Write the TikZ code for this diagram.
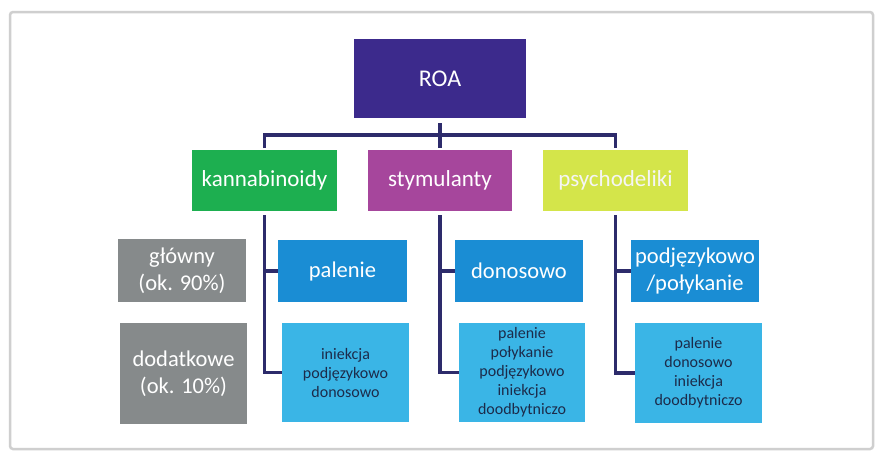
\documentclass[tikz,border=0pt]{standalone}
\usepackage{fontspec}
\setmainfont{Carlito}
\definecolor{roac}{HTML}{3C2A8C}
\definecolor{kannc}{HTML}{1DAF50}
\definecolor{stymc}{HTML}{A6469C}
\definecolor{psyc}{HTML}{D4E54A}
\definecolor{lvlthree}{HTML}{1A8DD4}
\definecolor{lvlfour}{HTML}{3AB5E6}
\definecolor{grayc}{HTML}{868A8B}
\definecolor{linec}{HTML}{2D2B6B}
\definecolor{darktext}{HTML}{1C2B4A}
\definecolor{framec}{HTML}{CFCFCF}
\begin{document}
\begin{tikzpicture}[x=1pt,y=-1pt,
  box/.style={inner sep=0pt, outer sep=0pt, align=center},
  conn/.style={draw=linec, line width=3.5pt},
  bigtxt/.style={font=\fontsize{22.5}{26.5}\selectfont},
  smalltxt/.style={font=\fontsize{16}{19}\selectfont, text=darktext}]
\useasboundingbox (0,0) rectangle (883,459);
\fill[white] (0,0) rectangle (883,459);
\draw[framec, line width=2.5pt, rounded corners=3pt] (10,12) rectangle (873,449);

\node[box, fill=roac, text=white, minimum width=172pt, minimum height=79pt, font=\fontsize{24}{28}\selectfont] (roa) at (440,78.5) {ROA};

\node[box, fill=kannc, text=white, minimum width=145pt, minimum height=61pt, font=\fontsize{23}{27}\selectfont] (kann) at (264.5,180.5) {kannabinoidy};
\node[box, fill=stymc, text=white, minimum width=144pt, minimum height=61pt, font=\fontsize{23}{27}\selectfont] (stym) at (440,180.5) {stymulanty};
\node[box, fill=psyc, text=white!92!gray, minimum width=145pt, minimum height=61pt, font=\fontsize{23}{27}\selectfont] (psych) at (615.5,180.5) {psychodeliki};

\node[box, bigtxt, fill=lvlthree, text=white, minimum width=129pt, minimum height=62pt] (pal) at (342.5,271) {palenie};
\node[box, bigtxt, fill=lvlthree, text=white, minimum width=128pt, minimum height=62pt] (don) at (519,271) {donosowo};
\node[box, bigtxt, fill=lvlthree, text=white, minimum width=128pt, minimum height=62pt] (podj) at (695,271) {podjęzykowo\\/połykanie};

\node[box, smalltxt, fill=lvlfour, minimum width=127pt, minimum height=99pt] (inie) at (345.5,372.5) {iniekcja\\podjęzykowo\\donosowo};
\node[box, smalltxt, fill=lvlfour, minimum width=126pt, minimum height=99pt] (stymf) at (522,372.5) {palenie\\połykanie\\podjęzykowo\\iniekcja\\doodbytniczo};
\node[box, smalltxt, fill=lvlfour, minimum width=127pt, minimum height=100pt] (psyf) at (698.5,373) {palenie\\donosowo\\iniekcja\\doodbytniczo};

\node[box, bigtxt, fill=grayc, text=white, minimum width=128pt, minimum height=63pt] (glow) at (182,270.5) {główny\\(ok. 90\%)};
\node[box, bigtxt, fill=grayc, text=white, minimum width=127pt, minimum height=101pt] (dod) at (183.5,373.5) {dodatkowe\\(ok. 10\%)};

\coordinate (bar) at (440,135);
\draw[conn, shorten <=5pt] (roa.south) -- (bar);
\draw[conn, shorten <=2pt, shorten >=2pt] (kann.north) |- (bar) -| (psych.north);
\draw[conn, shorten >=2pt] (bar) -- (stym.north);

\draw[conn, shorten <=4pt] (kann.south) |- (pal.west);
\draw[conn, shorten <=4pt] (kann.south) |- (inie.west);
\draw[conn, shorten <=4pt] (stym.south) |- (don.west);
\draw[conn, shorten <=4pt] (stym.south) |- (stymf.west);
\draw[conn, shorten <=4pt] (psych.south) |- (podj.west);
\draw[conn, shorten <=4pt] (psych.south) |- (psyf.west);
\end{tikzpicture}
\end{document}
